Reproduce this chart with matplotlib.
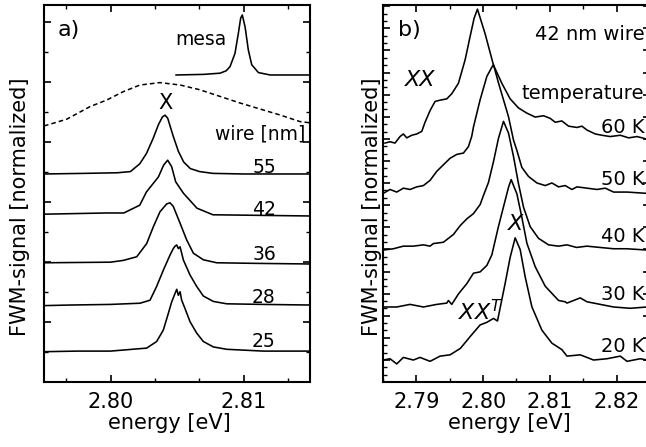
"""FWM spectra of single wires (a) and the 42 nm wire versus temperature (b)."""

import matplotlib
matplotlib.use("Agg")
import matplotlib.pyplot as plt
from matplotlib.ticker import MultipleLocator, AutoMinorLocator


# ---- panel a: wire width series (energy in eV, signal normalised) ----
wire_labels = ["55", "42", "36", "28", "25"]
wire_offsets = [3.467, 2.767, 1.967, 1.283, 0.505]

wire_55_e = [2.795, 2.798, 2.8005, 2.8015, 2.8022, 2.8027, 2.8032, 2.8036, 2.8039,
             2.8041, 2.8043, 2.8047, 2.8051, 2.8055, 2.8060, 2.8067, 2.8077, 2.8100, 2.815]
wire_55_s = [0.0, 0.01, 0.02, 0.04, 0.17, 0.34, 0.59, 0.82, 0.95,
             0.98, 0.93, 0.64, 0.38, 0.20, 0.09, 0.04, 0.01, 0.0, 0.0]

wire_42_e = [2.795, 2.7997, 2.8010, 2.8022, 2.8027, 2.8036, 2.8040, 2.8043, 2.8046,
             2.8049, 2.80548, 2.8065, 2.8077, 2.815]
wire_42_s = [0.03, 0.05, 0.05, 0.18, 0.40, 0.65, 0.85, 0.93, 0.82,
             0.57, 0.38, 0.13, 0.02, 0.0]

wire_36_e = [2.795, 2.800, 2.80097, 2.80197, 2.80272, 2.80322, 2.80372, 2.80422, 2.80447,
             2.80472, 2.80523, 2.80573, 2.80623, 2.80698, 2.80799, 2.8110, 2.815]
wire_36_s = [0.02, 0.03, 0.06, 0.12, 0.34, 0.62, 0.87, 1.0, 1.02,
             0.96, 0.68, 0.40, 0.18, 0.07, 0.02, 0.01, 0.0]

wire_28_e = [2.795, 2.797, 2.800, 2.80222, 2.80297, 2.80347, 2.80397, 2.80447, 2.80472,
             2.80485, 2.80498, 2.8051, 2.80523, 2.80548, 2.80598, 2.80648, 2.80698,
             2.80773, 2.80874, 2.8115, 2.815]
wire_28_s = [-0.01, 0.0, 0.01, 0.03, 0.08, 0.31, 0.58, 0.83, 0.94,
             0.98, 1.0, 0.94, 0.97, 0.75, 0.50, 0.31, 0.15,
             0.06, 0.02, 0.01, 0.0]

wire_25_e = [2.795, 2.7975, 2.800, 2.80272, 2.80347, 2.80397, 2.80435, 2.8046, 2.80485,
             2.80498, 2.8051, 2.80523, 2.80535, 2.8056, 2.80598, 2.80648, 2.80698,
             2.80773, 2.80874, 2.8115, 2.815]
wire_25_s = [0.0, 0.01, 0.01, 0.06, 0.17, 0.36, 0.64, 0.83, 0.97,
             1.04, 0.94, 1.0, 0.86, 0.72, 0.50, 0.31, 0.17,
             0.08, 0.04, 0.01, 0.01]

mesa_offset = 5.117
mesa_e = [2.80493, 2.8070, 2.80824, 2.8087, 2.80899, 2.80936, 2.80961, 2.80979,
          2.80991, 2.81012, 2.81036, 2.81062, 2.81112, 2.812, 2.815]
mesa_s = [0.0, 0.01, 0.03, 0.07, 0.14, 0.36, 0.69, 0.95,
          1.0, 0.80, 0.42, 0.17, 0.04, 0.0, 0.0]

broad_offset = 4.27
broad_e = [2.795, 2.7952, 2.79671, 2.79846, 2.79972, 2.80097, 2.80222, 2.80372,
           2.80523, 2.80673, 2.80823, 2.80974, 2.81124, 2.81275, 2.81425, 2.815]
broad_s = [0.0, 0.01, 0.11, 0.32, 0.43, 0.57, 0.68, 0.72,
           0.68, 0.60, 0.49, 0.38, 0.28, 0.18, 0.07, 0.05]

# ---- panel b: 42 nm wire, temperature series ----
temp_labels = ["60 K", "50 K", "40 K", "30 K", "20 K"]
temp_offsets = [1.838, 1.431, 1.015, 0.577, 0.169]

t60_e = [2.7853, 2.78605, 2.7868, 2.78755, 2.78805, 2.78856, 2.7893, 2.79006, 2.79081,
         2.7913, 2.79205, 2.7928, 2.79355, 2.79456, 2.79531, 2.7963, 2.7973, 2.79805,
         2.79865, 2.79915, 2.8003, 2.80155, 2.8028, 2.80405, 2.8053, 2.80656, 2.8078,
         2.80905, 2.81005, 2.8108, 2.8118, 2.8128, 2.81406, 2.8148, 2.81556, 2.8168,
         2.8178, 2.81905, 2.82055, 2.8218, 2.82306, 2.82456]
t60_s = [0.0, 0.01, 0.0, 0.05, 0.07, 0.04, 0.06, 0.07, 0.09,
         0.16, 0.25, 0.32, 0.33, 0.34, 0.38, 0.46, 0.64, 0.82,
         0.96, 1.03, 0.84, 0.60, 0.46, 0.34, 0.27, 0.23, 0.20,
         0.21, 0.19, 0.16, 0.17, 0.13, 0.12, 0.13, 0.10, 0.07,
         0.06, 0.05, 0.06, 0.04, 0.05, 0.03]

t50_e = [2.78505, 2.78605, 2.78706, 2.78805, 2.78905, 2.79006, 2.79105, 2.79205, 2.79306,
         2.79405, 2.79505, 2.79606, 2.79705, 2.7978, 2.7983, 2.79855, 2.79955, 2.80056,
         2.8013, 2.80155, 2.8023, 2.80305, 2.8038, 2.80455, 2.80506, 2.8058, 2.8068,
         2.80806, 2.8093, 2.8103, 2.8113, 2.8123, 2.8133, 2.81406, 2.81556, 2.81706,
         2.8183, 2.81955, 2.82156, 2.82456]
t50_s = [0.02, 0.05, 0.03, 0.06, 0.05, 0.07, 0.08, 0.12, 0.19,
         0.24, 0.29, 0.32, 0.33, 0.38, 0.46, 0.53, 0.74, 0.92,
         0.99, 1.01, 0.87, 0.74, 0.61, 0.43, 0.35, 0.22, 0.15,
         0.10, 0.08, 0.10, 0.07, 0.08, 0.05, 0.07, 0.06, 0.05,
         0.06, 0.03, 0.03, 0.02]

t40_e = [2.78505, 2.78655, 2.78805, 2.78955, 2.79105, 2.79205, 2.79255, 2.79405, 2.79555,
         2.7966, 2.79756, 2.79855, 2.79955, 2.80005, 2.8008, 2.80155, 2.8023, 2.80305,
         2.8038, 2.80455, 2.8053, 2.80605, 2.80705, 2.8083, 2.8098, 2.8113, 2.81256,
         2.8140, 2.81556, 2.8175, 2.81955, 2.8215, 2.82456]
t40_s = [0.0, 0.01, 0.03, 0.03, 0.04, 0.03, 0.05, 0.06, 0.12,
         0.19, 0.24, 0.28, 0.35, 0.42, 0.52, 0.68, 0.86, 0.99,
         0.90, 0.72, 0.51, 0.33, 0.18, 0.09, 0.04, 0.03, 0.04,
         0.02, 0.03, 0.02, 0.01, 0.01, 0.0]

t30_e = [2.78505, 2.78706, 2.78905, 2.79105, 2.79306, 2.79456, 2.7948, 2.7953, 2.7963,
         2.79756, 2.79855, 2.79955, 2.80056, 2.8013, 2.8023, 2.8033, 2.8038, 2.8042,
         2.80506, 2.8058, 2.80656, 2.8078, 2.8093, 2.8113, 2.8123, 2.81256, 2.81455,
         2.81556, 2.81755, 2.81955, 2.82205, 2.82456]
t30_s = [0.0, 0.0, 0.02, 0.0, 0.02, 0.03, 0.05, 0.02, 0.10,
         0.18, 0.26, 0.27, 0.32, 0.40, 0.62, 0.82, 0.92, 0.98,
         0.87, 0.69, 0.49, 0.31, 0.16, 0.05, 0.04, 0.03, 0.07,
         0.04, 0.02, 0.0, -0.01, 0.0]

t20_e = [2.78505, 2.78605, 2.78706, 2.78805, 2.78955, 2.79055, 2.79205, 2.79355, 2.79505,
         2.7966, 2.79805, 2.79955, 2.80056, 2.80155, 2.80215, 2.8033, 2.80405, 2.8048,
         2.80555, 2.8063, 2.8073, 2.8088, 2.8103, 2.8118, 2.81256, 2.81455, 2.81655,
         2.81856, 2.82055, 2.82156, 2.82355, 2.82456]
t20_s = [0.0, 0.01, -0.03, 0.02, 0.0, 0.02, -0.01, 0.03, 0.04,
         0.09, 0.18, 0.27, 0.29, 0.32, 0.30, 0.59, 0.79, 0.94,
         0.85, 0.64, 0.41, 0.23, 0.13, 0.08, 0.03, 0.04, 0.0,
         0.01, 0.03, -0.01, 0.01, 0.0]

wire_traces = [(wire_55_e, wire_55_s), (wire_42_e, wire_42_s), (wire_36_e, wire_36_s),
               (wire_28_e, wire_28_s), (wire_25_e, wire_25_s)]
temp_traces = [(t60_e, t60_s), (t50_e, t50_s), (t40_e, t40_s),
               (t30_e, t30_s), (t20_e, t20_s)]


def shifted(values, offset):
    return [v + offset for v in values]


def style_axes(ax):
    for spine in ax.spines.values():
        spine.set_linewidth(1.5)
    ax.tick_params(which="both", direction="in", top=True, right=True,
                   labelleft=False, labelsize=15, pad=7)
    ax.tick_params(which="major", length=5, width=1.2)
    ax.tick_params(which="minor", length=3, width=1.0)
    ax.xaxis.set_major_formatter("{x:.2f}")


fig = plt.figure(figsize=(6.46, 4.47), dpi=100)
ax_a = fig.add_axes([44 / 646, 65 / 447, 266 / 646, 377 / 447])
ax_b = fig.add_axes([383 / 646, 65 / 447, 267 / 646, 377 / 447])

line_kw = dict(color="black", lw=1.15)

# panel a
for (energy, signal), offset in zip(wire_traces, wire_offsets):
    ax_a.plot(energy, shifted(signal, offset), **line_kw)
ax_a.plot(mesa_e, shifted(mesa_s, mesa_offset), **line_kw)
ax_a.plot(broad_e, shifted(broad_s, broad_offset), color="black", lw=1.1,
          linestyle=(0, (3, 2)))
ax_a.set_xlim(2.795, 2.815)
ax_a.set_ylim(0, 377 / 60)
ax_a.xaxis.set_major_locator(MultipleLocator(0.01))
ax_a.xaxis.set_minor_locator(AutoMinorLocator(3))
ax_a.yaxis.set_major_locator(MultipleLocator(1.0))
ax_a.yaxis.set_minor_locator(AutoMinorLocator(2))
style_axes(ax_a)

ax_a.text(0.053, 0.934, "a)", transform=ax_a.transAxes, fontsize=16, va="center")
ax_a.text(0.492, 0.894, "mesa", transform=ax_a.transAxes, fontsize=13.5)
ax_a.text(0.455, 0.741, "X", transform=ax_a.transAxes, fontsize=15,
          ha="center", va="center")
ax_a.text(0.981, 0.642, "wire [nm]", transform=ax_a.transAxes, fontsize=13.5, ha="right")
wire_label_y = [0.554, 0.443, 0.3236, 0.2095, 0.0928]
for label, ly in zip(wire_labels, wire_label_y):
    ax_a.text(0.827, ly, label, transform=ax_a.transAxes, fontsize=13.5, ha="center")

# panel b
for (energy, signal), offset in zip(temp_traces, temp_offsets):
    ax_b.plot(energy, shifted(signal, offset), **line_kw)
ax_b.set_xlim(2.785, 2.825)
ax_b.set_ylim(0, 377 / 130)
ax_b.xaxis.set_major_locator(MultipleLocator(0.01))
ax_b.xaxis.set_minor_locator(AutoMinorLocator(2))
ax_b.yaxis.set_major_locator(MultipleLocator(0.17))
ax_b.yaxis.set_minor_locator(AutoMinorLocator(3))
style_axes(ax_b)

ax_b.text(0.056, 0.934, "b)", transform=ax_b.transAxes, fontsize=16, va="center")
ax_b.text(0.978, 0.907, "42 nm wire", transform=ax_b.transAxes, fontsize=14, ha="right")
ax_b.text(0.978, 0.7507, "temperature", transform=ax_b.transAxes, fontsize=14, ha="right")
ax_b.text(0.082, 0.801, "XX", transform=ax_b.transAxes, fontsize=16,
          style="italic", va="center")
ax_b.text(0.496, 0.418, "X", transform=ax_b.transAxes, fontsize=16,
          style="italic", ha="center", va="center")
ax_b.text(0.281, 0.1645, r"$XX^T$", transform=ax_b.transAxes, fontsize=16)
temp_label_y = [0.6605, 0.5225, 0.3714, 0.2175, 0.0796]
for label, ly in zip(temp_labels, temp_label_y):
    ax_b.text(0.978, ly, label, transform=ax_b.transAxes, fontsize=14, ha="right")

# axis titles placed in figure coordinates
fig.text(169 / 646, 1 - 423 / 447, "energy [eV]", fontsize=15, ha="center", va="center")
fig.text(509 / 646, 1 - 423 / 447, "energy [eV]", fontsize=15, ha="center", va="center")
fig.text(20 / 646, 1 - 207 / 447, "FWM-signal [normalized]", fontsize=15,
         rotation=90, ha="center", va="center")
fig.text(372 / 646, 1 - 207 / 447, "FWM-signal [normalized]", fontsize=15,
         rotation=90, ha="center", va="center")

fig.savefig("out.png", dpi=100)
